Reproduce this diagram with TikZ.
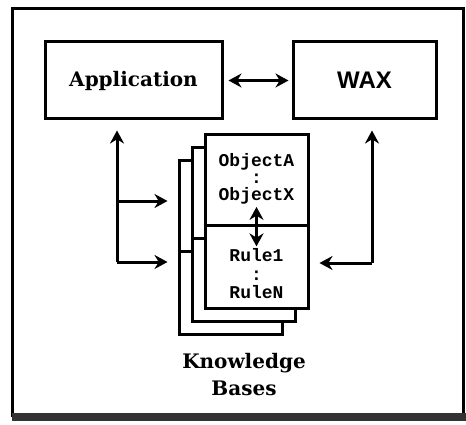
\documentclass[tikz,border=0pt]{standalone}
\usepackage{fontspec}
\usetikzlibrary{arrows.meta,calc}
\newfontfamily\boxfont{DejaVu Serif}
\newfontfamily\waxfont{Liberation Sans}
\newfontfamily\kbfont{Liberation Mono}

\begin{document}
\begin{tikzpicture}[x=1pt, y=-1pt, line width=3pt,
    >={Stealth[length=13pt,width=14pt]},
    block/.style={draw, minimum width=#1, minimum height=77pt, inner sep=0pt},
    page/.style={draw, fill=white, minimum width=103pt, minimum height=174pt, inner sep=0pt},
    mono/.style={font=\kbfont\bfseries\fontsize{18}{17}\selectfont, align=center, inner sep=0pt},
    gap/.style={shorten >=10pt}]
    \useasboundingbox (0,0) rectangle (466,425);
    % frame
    \draw[line width=3pt] (12,9) rectangle (463,415);
    \fill[black!80] (12,413) rectangle (466,421);

    % the two boxes
    \node[block=177pt, font=\boxfont\bfseries\fontsize{20}{22}\selectfont] (app) at (133.5,80.5) {Application};
    \node[block=143pt, font=\waxfont\bfseries\fontsize{24}{26}\selectfont] (wax) at (364.5,80.5) {WAX};

    % stack of knowledge bases, back to front
    \foreach \n/\cx/\cy in {3/230.5/247.5, 2/243.5/234.5, 1/256.5/221.5} {
        \node[page] (kb\n) at (\cx,\cy) {};
        \draw ($(kb\n.north west)!0.52!(kb\n.south west)$) -- ($(kb\n.north east)!0.52!(kb\n.south east)$);
    }
    \node[mono] (objects) at (256.5,179) {ObjectA\\:\\ObjectX};
    \node[mono, font=\kbfont\bfseries\fontsize{18}{18.5}\selectfont] (rules) at (256.5,274) {Rule1\\:\\RuleN};
    \node[align=center, font=\boxfont\bfseries\fontsize{20}{27}\selectfont] (kbname) at (244,375) {Knowledge\\Bases};

    % connectors
    \coordinate (appfoot) at (117,262);
    \coordinate (appmid)  at (117,201);
    \coordinate (waxfoot) at (372,263);
    \draw[<->, shorten <=5pt, shorten >=3pt] (app) -- (wax);
    \draw[<->, shorten <=1pt, shorten >=1pt] (objects.south) -- (rules.north);
    \draw[->, gap] (appfoot) -- (appfoot |- app.south);
    \draw[->, gap] (appmid) -- (appmid -| kb3.west);
    \draw[->, gap] (appfoot) -- (appfoot -| kb3.west);
    \draw[->, gap] (waxfoot) -- (waxfoot |- wax.south);
    \draw[->, gap] (waxfoot) -- (waxfoot -| kb1.east);
\end{tikzpicture}
\end{document}
